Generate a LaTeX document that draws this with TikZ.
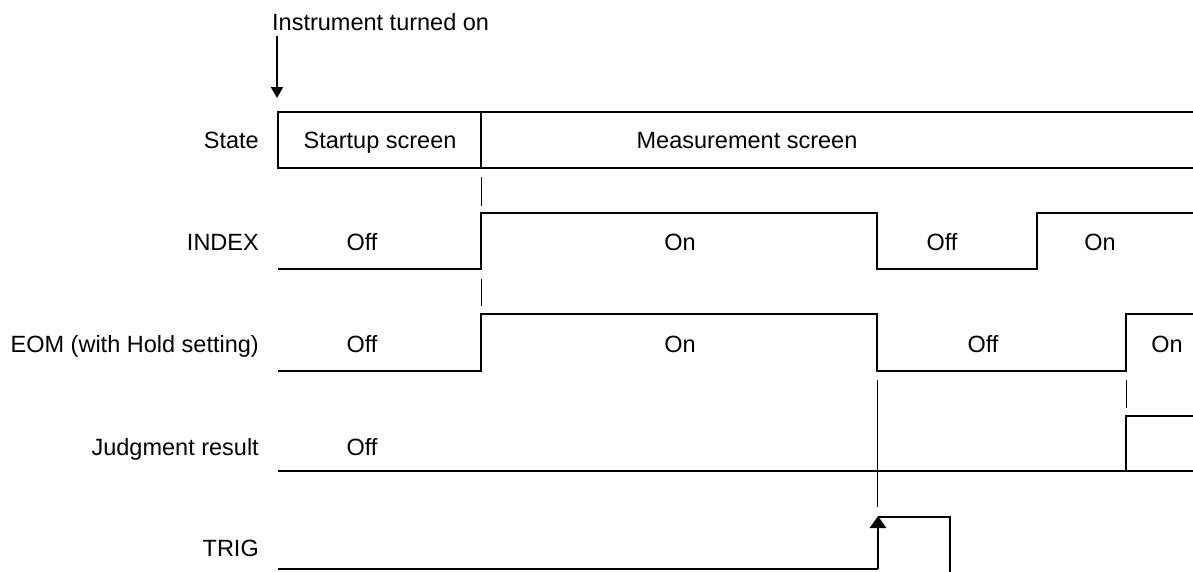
\documentclass[tikz,border=0pt]{standalone}
\usepackage{fontspec}
\setmainfont{Liberation Sans}
\usetikzlibrary{arrows.meta}

\tikzset{
    sig/.style={line width=2.8pt, line join=miter},
    tick/.style={line width=1pt},
    lbl/.style={anchor=base east, inner sep=0pt, font=\fontsize{23.5}{28}\selectfont},
    val/.style={anchor=base, inner sep=0pt, font=\fontsize{23.5}{28}\selectfont},
    arr/.style={line width=2pt, -{Triangle[width=12pt,length=11pt]}}
}

\begin{document}
\begin{tikzpicture}[x=1pt,y=-1pt]
    \useasboundingbox (0,0) rectangle (1193,571);

    % Power on marker
    \node[val, anchor=base west] (lblPower) at (272,30) {Instrument turned on};
    \coordinate (powerTop) at (277,36);
    \coordinate (powerOn) at (277,98);
    \draw[arr] (powerTop) -- (powerOn);

    % Row labels
    \node[lbl] (lblState) at (259,148) {State};
    \node[lbl] (lblIndex) at (259,250) {INDEX};
    \node[lbl] (lblEom) at (259,352) {EOM (with Hold setting)};
    \node[lbl] (lblJudge) at (259,455) {Judgment result};
    \node[lbl] (lblTrig) at (259,556) {TRIG};

    % State
    \draw[sig] (1194,112) -- (278,112) -- (278,168) -- (1194,168);
    \draw[sig] (481,112) -- (481,168);
    \node[val] (stStartup) at (380,148) {Startup screen};
    \node[val] (stMeasure) at (747,148) {Measurement screen};

    % INDEX
    \draw[sig] (278,269) -- (481,269) -- (481,213) -- (877,213) -- (877,269)
        -- (1037,269) -- (1037,213) -- (1194,213);
    \node[val] (idxOff1) at (362,250) {Off};
    \node[val] (idxOn1) at (680,250) {On};
    \node[val] (idxOff2) at (942,250) {Off};
    \node[val] (idxOn2) at (1100,250) {On};

    % EOM
    \draw[sig] (278,371) -- (481,371) -- (481,314) -- (877,314) -- (877,371)
        -- (1126,371) -- (1126,314) -- (1194,314);
    \node[val] (eomOff1) at (362,352) {Off};
    \node[val] (eomOn1) at (680,352) {On};
    \node[val] (eomOff2) at (983,352) {Off};
    \node[val] (eomOn2) at (1167,352) {On};

    % Judgment result
    \draw[sig] (278,471) -- (1194,471);
    \draw[sig] (1126,471) -- (1126,416) -- (1194,416);
    \node[val] (judOff) at (362,455) {Off};

    % TRIG
    \draw[sig] (278,569) -- (878,569);
    \draw[sig, -{Triangle[width=16pt,length=12pt]}] (878,569) -- (878,516);
    \draw[sig] (878,517) -- (950,517) -- (950,572);

    % Timing ticks
    \draw[tick] (481,177) -- (481,206);
    \draw[tick] (481,279) -- (481,306);
    \draw[tick] (877,380) -- (877,507);
    \draw[tick] (1126,380) -- (1126,408);
\end{tikzpicture}
\end{document}
